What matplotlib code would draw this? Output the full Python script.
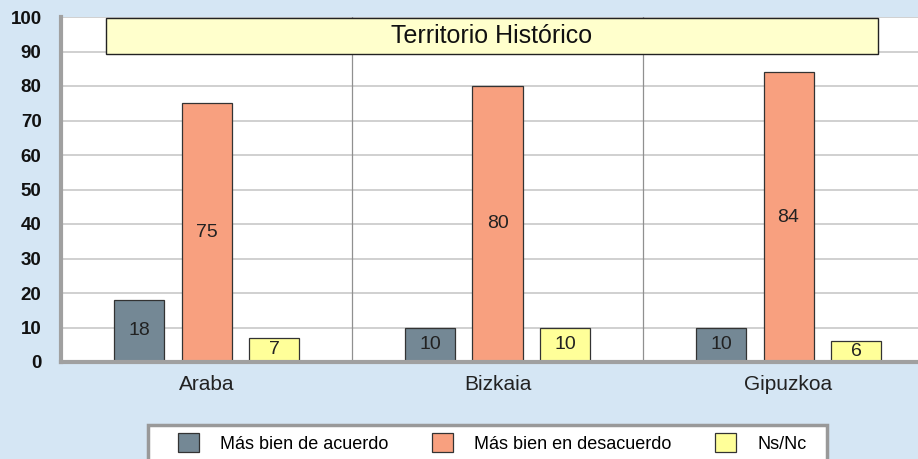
import matplotlib
matplotlib.use("Agg")
import matplotlib.pyplot as plt
from matplotlib.patches import Rectangle, Patch
import numpy as np

plt.rcParams['font.family'] = ['Liberation Sans', 'DejaVu Sans']

categories = ["Araba", "Bizkaia", "Gipuzkoa"]
series_names = ["Más bien de acuerdo", "Más bien en desacuerdo", "Ns/Nc"]
acuerdo = [18, 10, 10]
desacuerdo = [75, 80, 84]
nsnc = [7, 10, 6]
yticks = [0, 10, 20, 30, 40, 50, 60, 70, 80, 90, 100]
title = "Territorio Histórico"

colors = ["#748895", "#F8A07F", "#FFFF99"]
bg = "#D5E6F4"

fig = plt.figure(figsize=(9.18, 4.59), dpi=100, facecolor=bg)
ax = fig.add_axes([61/918, 97/459, 873/918, 345/459])
ax.set_facecolor("white")
ax.set_xlim(0, 3)
ax.set_ylim(0, 100)

# grid
for t in yticks[1:]:
    ax.axhline(t, color="#C8C8C8", lw=1.2, zorder=0)
for b in [1, 2]:
    ax.axvline(b, color="#909090", lw=0.9, zorder=0)

centers = np.arange(3) + 0.5
bw = 50/291
step = 67.5/291
data = [acuerdo, desacuerdo, nsnc]
for i, (vals, c) in enumerate(zip(data, colors)):
    xs = centers + (i - 1) * step
    ax.bar(xs, vals, width=bw, color=c, edgecolor="#333333", lw=0.9, zorder=2)
    for x, v in zip(xs, vals):
        ax.text(x, v/2, str(v), ha="center", va="center", fontsize=14, color="#222222", zorder=3)

# title box
ax.add_patch(Rectangle((45/291, 89.2), (878-106)/291, 10.6, facecolor="#FFFFCC",
                       edgecolor="#222222", lw=1.0, zorder=4, clip_on=False))
ax.text((106+878)/2/291 - 61/291, 94.4, title, ha="center", va="center", fontsize=18,
        color="#111111", zorder=5)

ax.set_xticks(centers)
ax.set_xticklabels(categories, fontsize=15, color="#222222")
ax.set_yticks(yticks)
ax.set_yticklabels([str(t) for t in yticks], fontsize=13.5, fontweight="bold", color="#111111")
ax.tick_params(axis="both", length=0)
ax.tick_params(axis="x", pad=9)
ax.tick_params(axis="y", pad=14)

for s in ["top", "right"]:
    ax.spines[s].set_visible(False)
ax.spines["left"].set_color("#A0A0A0")
ax.spines["left"].set_linewidth(3)
ax.spines["bottom"].set_color("#A0A0A0")
ax.spines["bottom"].set_linewidth(3)

# legend frame
fig.patches.append(Rectangle((148/918, -20/459), (827-148)/918, (34+20)/459,
                             transform=fig.transFigure, facecolor="white",
                             edgecolor="#999999", lw=2.5, zorder=0))
handles = [Patch(facecolor=c, edgecolor="#333333", lw=0.9) for c in colors]
leg = fig.legend(handles, series_names, loc="center", ncol=3,
                 bbox_to_anchor=(492/918, (459-443)/459), frameon=False,
                 fontsize=13, handlelength=1.2, handleheight=1.2, handletextpad=1.15,
                 columnspacing=2.4, borderpad=0.0)

fig.savefig("out.png", dpi=100, facecolor=bg)
